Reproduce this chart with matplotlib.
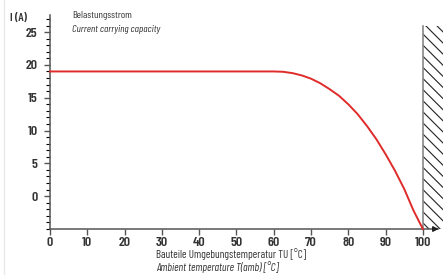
import matplotlib
matplotlib.use("Agg")
import matplotlib.pyplot as plt
from matplotlib.patches import Rectangle
from matplotlib.lines import Line2D

plt.rcParams['font.family'] = ['Barlow Condensed', 'DejaVu Sans']
plt.rcParams['hatch.linewidth'] = 0.8

temp = [0, 60, 62.5, 65, 67.5, 70, 72.5, 75, 77.5, 80, 82.5, 85, 87.5, 90, 92.5, 95, 97.5, 100]
current = [19, 19, 18.95, 18.75, 18.4, 17.9, 17.2, 16.3, 15.3, 14.0, 12.5, 10.7, 8.7, 6.4, 3.9, 1.1, -2.2, -5.0]
xticks = [0, 10, 20, 30, 40, 50, 60, 70, 80, 90, 100]
yticks = [0, 5, 10, 15, 20, 25]

TXT = '#333333'
AX = '#555555'

fig = plt.figure(figsize=(4.43, 2.75), dpi=100)
ax = fig.add_axes([50/443, 46/275, 393/443, 214/275])
ax.set_xlim(0, 105.4)
ax.set_ylim(-5, 27.6)

ax.add_patch(Rectangle((100, -5), 10, 30.9, facecolor='white', edgecolor='#222222',
                       hatch='\\\\\\', linewidth=0, zorder=1))
ax.plot([100, 100], [-5, 25.9], color='#888888', lw=1.2, zorder=2)

ax.plot(temp, current, color='#e02b2b', lw=1.4, zorder=3, clip_on=False)

for s in ['top', 'right']:
    ax.spines[s].set_visible(False)
for s in ['left', 'bottom']:
    ax.spines[s].set_color(AX)
    ax.spines[s].set_linewidth(1.1)
ax.spines['left'].set_bounds(-5, 27.6)
ax.spines['bottom'].set_bounds(0, 104)

ax.annotate('', xy=(105, -5), xytext=(102, -5),
            arrowprops=dict(arrowstyle='-|>', color='#222222', lw=1.0, mutation_scale=8),
            annotation_clip=False)

ax.set_xticks(xticks)
ax.set_yticks(yticks)
ax.set_yticks(range(-5, 28), minor=True)
ax.tick_params(axis='both', colors=AX, labelcolor=TXT, labelsize=10, width=1.0)
ax.tick_params(axis='x', length=4, direction='out', pad=1.5)
ax.tick_params(axis='y', which='major', length=4, pad=5)
ax.tick_params(axis='y', which='minor', length=3, width=0.8)
for lab in ax.get_xticklabels() + ax.get_yticklabels():
    lab.set_fontweight('semibold')

fig.text(10/443, 1 - 18/275, 'I (A)', color=TXT, fontsize=8.5, fontweight='semibold', va='center', ha='left')
fig.text(72/443, 1 - 15/275, 'Belastungsstrom', color=TXT, fontsize=7.5, va='center', ha='left')
fig.text(72/443, 1 - 29/275, 'Current carrying capacity', color=TXT, fontsize=7.5, style='italic', va='center', ha='left')
fig.text(156/443, 1 - 254/275, 'Bauteile Umgebungstemperatur TU [°C]', color=TXT, fontsize=8, va='center', ha='left')
fig.text(156/443, 1 - 267/275, 'Ambient temperature T(amb) [°C]', color=TXT, fontsize=8, style='italic', va='center', ha='left')

fig.add_artist(Line2D([4/443, 4/443], [0, 1], color='#e8e8e8', lw=1, transform=fig.transFigure))

fig.savefig('out.png', dpi=100)
